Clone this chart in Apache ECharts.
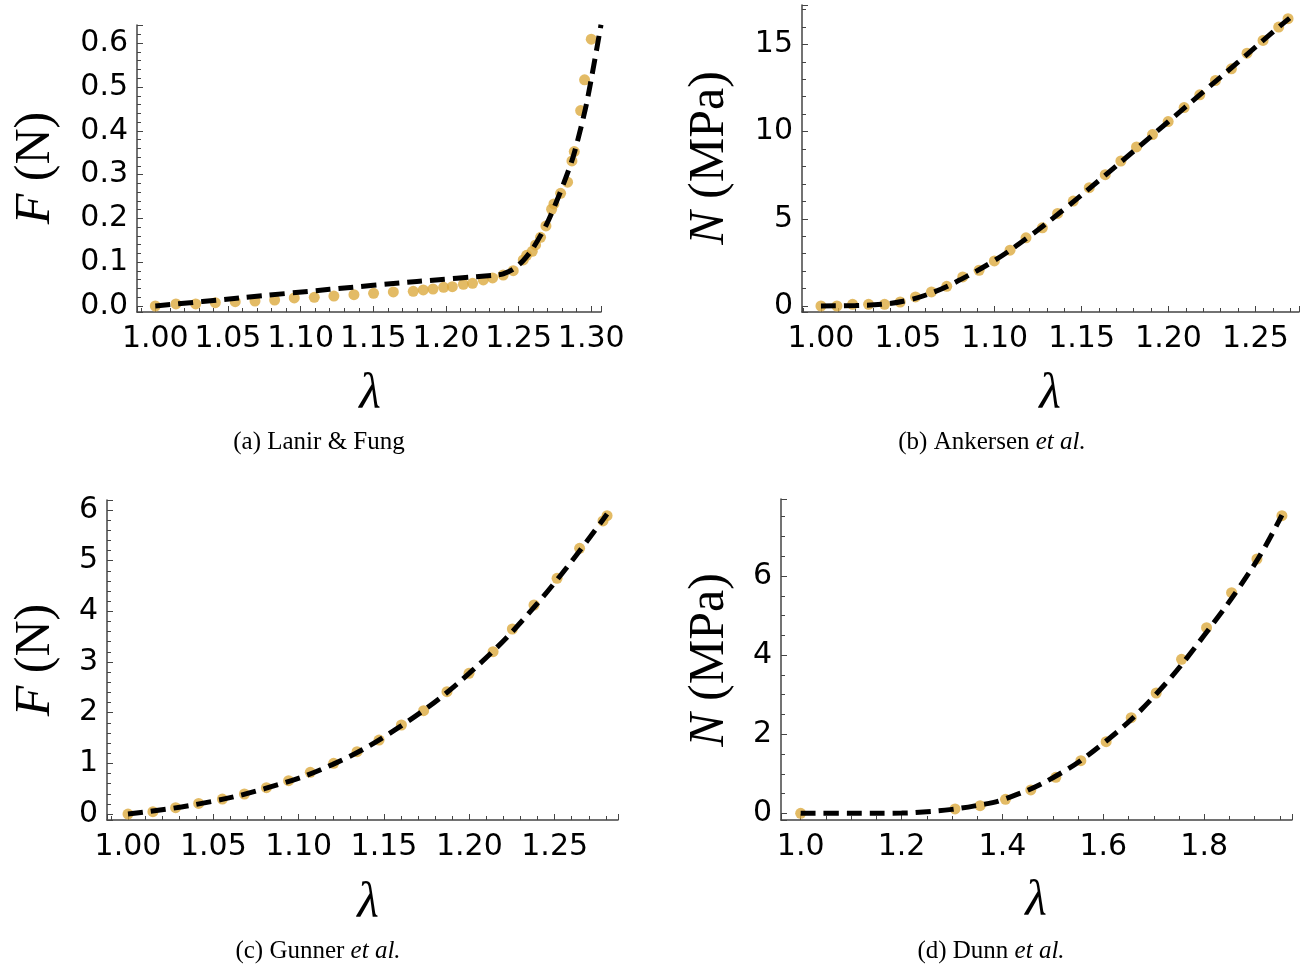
<!DOCTYPE html>
<html>
<head>
<meta charset="utf-8">
<script src="https://cdn.jsdelivr.net/npm/echarts@6/dist/echarts.min.js"></script>
<style>
  html, body { margin: 0; padding: 0; background: #fff; }
  #chart { width: 1314px; height: 968px; }
</style>
</head>
<body>
<div id="chart"></div>
<script>
// (a) Lanir & Fung — measured stretch λ and force F (N)
const lanirLambda = [1.000, 1.0142, 1.0278, 1.0413, 1.055, 1.0686, 1.0821, 1.0956, 1.1094, 1.1229,
  1.1367, 1.1502, 1.1638, 1.1775, 1.1844, 1.1911, 1.1984, 1.2044, 1.212, 1.2183,
  1.2257, 1.2321, 1.2394, 1.2463, 1.2532, 1.2555, 1.2594, 1.2617, 1.2651, 1.2688,
  1.2727, 1.2743, 1.2789, 1.2837, 1.2867, 1.2883, 1.2927, 1.2954, 1.300];
const lanirForce = [0.000, 0.0046, 0.0046, 0.0076, 0.0099, 0.0114, 0.0137, 0.0183, 0.0198, 0.0228,
  0.0259, 0.0289, 0.032, 0.0335, 0.0366, 0.0388, 0.0426, 0.0442, 0.0495, 0.0518,
  0.0594, 0.064, 0.0708, 0.0807, 0.1051, 0.1158, 0.1249, 0.1394, 0.1569, 0.1828,
  0.2209, 0.2331, 0.2574, 0.2826, 0.3313, 0.3526, 0.4463, 0.5164, 0.6093];
// model fit
const lanirFitLambda = [1.000, 1.06, 1.12, 1.18, 1.2349, 1.2394, 1.2463, 1.2532, 1.2601, 1.2693, 1.2784, 1.2876, 1.2968, 1.3067];
const lanirFitForce  = [0.000, 0.019, 0.038, 0.056, 0.0708, 0.0735, 0.084, 0.104, 0.133, 0.187, 0.2574, 0.3412, 0.4631, 0.6421];

// (b) Ankersen et al. — nominal stress N (MPa)
const ankersenLambda = [1.0, 1.0092, 1.0182, 1.0274, 1.0366, 1.0456, 1.0544, 1.0636, 1.0724, 1.0816,
  1.091, 1.0998, 1.1088, 1.118, 1.1274, 1.1362, 1.1452, 1.1544, 1.1636, 1.1726,
  1.1816, 1.1908, 1.1998, 1.209, 1.218, 1.227, 1.2362, 1.2452, 1.2544, 1.2634, 1.2688];
const ankersenStress = [0, 0, 0.096, 0.096, 0.096, 0.23, 0.517, 0.805, 1.13, 1.667,
  2.05, 2.586, 3.2, 3.908, 4.483, 5.307, 6.015, 6.782, 7.529, 8.314,
  9.119, 9.828, 10.575, 11.379, 12.107, 12.931, 13.6, 14.5, 15.23, 15.996, 16.475];
const ankersenFitLambda = [1.0, 1.02, 1.035, 1.05, 1.065, 1.08, 1.10, 1.12, 1.14, 1.16,
  1.18, 1.20, 1.22, 1.24, 1.26, 1.2697];
const ankersenFitStress = [0, 0.03, 0.10, 0.33, 0.80, 1.50, 2.62, 4.00, 5.55, 7.20,
  8.88, 10.58, 12.28, 13.98, 15.70, 16.51];

// (c) Gunner et al. — force F (N)
const gunnerLambda = [1.0, 1.0146, 1.0279, 1.0414, 1.0553, 1.0682, 1.0811, 1.0941, 1.1068, 1.1205,
  1.1342, 1.1471, 1.1602, 1.1732, 1.1869, 1.1998, 1.2139, 1.2252, 1.2379, 1.2514,
  1.2646, 1.2783, 1.2807];
const gunnerForce = [0, 0.046, 0.125, 0.21, 0.296, 0.395, 0.52, 0.658, 0.822, 1.0,
  1.23, 1.46, 1.757, 2.04, 2.414, 2.776, 3.204, 3.651, 4.125, 4.651,
  5.243, 5.783, 5.888];
const gunnerFitLambda = [1.0, 1.04, 1.08, 1.12, 1.16, 1.20, 1.24, 1.2807];
const gunnerFitForce  = [0, 0.19, 0.50, 0.98, 1.74, 2.78, 4.16, 5.92];

// (d) Dunn et al. — nominal stress N (MPa)
const dunnLambda = [1.0, 1.306, 1.3557, 1.406, 1.4562, 1.5058, 1.5554, 1.6056, 1.6552, 1.7048,
  1.755, 1.8046, 1.8542, 1.9045, 1.954];
const dunnStress = [0, 0.11, 0.194, 0.354, 0.59, 0.91, 1.331, 1.812, 2.418, 3.042,
  3.893, 4.694, 5.578, 6.43, 7.525];
const dunnFitLambda = [1.0, 1.1, 1.2, 1.25, 1.3, 1.35, 1.4, 1.5, 1.6, 1.7, 1.8, 1.9, 1.954];
const dunnFitStress = [0, 0, 0.005, 0.04, 0.10, 0.20, 0.34, 0.90, 1.77, 2.95, 4.50, 6.30, 7.54];

// captions
const captions = ['(a) Lanir & Fung', '(b) Ankersen ', '(c) Gunner ', '(d) Dunn '];

const POINT_COLOR = '#dcaa3e';
const AXIS_COLOR = '#444';
const SERIF = '"Liberation Serif", "DejaVu Serif", serif';
const SANS = '"DejaVu Sans", sans-serif';

const zip = (xs, ys) => xs.map((x, i) => [x, ys[i]]);

function valueAxis(gridIndex, min, max, step, minorSplit, decimals, isX) {
  return {
    type: 'value',
    gridIndex: gridIndex,
    min: min,
    max: max,
    minInterval: step,
    maxInterval: step,
    splitNumber: Math.max(1, Math.round((max - min) / step)),
    axisLine: { show: true, onZero: false, lineStyle: { color: AXIS_COLOR, width: 1.5 } },
    axisTick: { show: true, inside: true, length: 6, lineStyle: { color: AXIS_COLOR, width: 1 } },
    minorTick: { show: true, splitNumber: minorSplit, length: 4, lineStyle: { color: AXIS_COLOR, width: 1 } },
    splitLine: { show: false },
    minorSplitLine: { show: false },
    axisLabel: {
      showMinLabel: false,
      showMaxLabel: false,
      formatter: v => v.toFixed(decimals),
      fontFamily: SANS,
      fontSize: 30,
      color: '#000',
      margin: isX ? 12 : 9
    }
  };
}

const panels = [
  { grid: { left: 137, top: 25, width: 464, height: 287 },
    x: [0.9874, 1.3067, 0.05, 5, 2], y: [-0.0137, 0.6416, 0.1, 5, 1],
    pts: zip(lanirLambda, lanirForce), fit: zip(lanirFitLambda, lanirFitForce), smooth: 0.25 },
  { grid: { left: 802, top: 5, width: 497, height: 307 },
    x: [0.9891, 1.2751, 0.05, 5, 2], y: [-0.344, 17.26, 5, 5, 0],
    pts: zip(ankersenLambda, ankersenStress), fit: zip(ankersenFitLambda, ankersenFitStress), smooth: 0.4 },
  { grid: { left: 107, top: 500, width: 511, height: 320 },
    x: [0.9877, 1.2871, 0.05, 5, 2], y: [-0.118, 6.197, 1, 5, 0],
    pts: zip(gunnerLambda, gunnerForce), fit: zip(gunnerFitLambda, gunnerFitForce), smooth: 0.4 },
  { grid: { left: 781, top: 499, width: 511, height: 321 },
    x: [0.961, 1.974, 0.2, 4, 1], y: [-0.169, 7.947, 2, 4, 0],
    pts: zip(dunnLambda, dunnStress), fit: zip(dunnFitLambda, dunnFitStress), smooth: 0.4 }
];

const grids = [], xAxes = [], yAxes = [], series = [];
panels.forEach((p, i) => {
  grids.push(Object.assign({ containLabel: false, outerBoundsMode: 'none' }, p.grid));
  xAxes.push(valueAxis(i, p.x[0], p.x[1], p.x[2], p.x[3], p.x[4], true));
  yAxes.push(valueAxis(i, p.y[0], p.y[1], p.y[2], p.y[3], p.y[4], false));
  series.push({
    type: 'scatter', xAxisIndex: i, yAxisIndex: i, data: p.pts,
    symbol: 'circle', symbolSize: 11,
    itemStyle: { color: POINT_COLOR }, z: 2, silent: true
  });
  series.push({
    type: 'line', xAxisIndex: i, yAxisIndex: i, data: p.fit,
    showSymbol: false, smooth: p.smooth,
    lineStyle: { color: '#000', width: 5, type: [15, 8], cap: 'butt' },
    z: 3, silent: true
  });
});

function titleText(x, y, text, rotated) {
  return {
    type: 'text', x: x, y: y, rotation: rotated ? Math.PI / 2 : 0, silent: true,
    style: { text: text, rich: axisRich, align: 'center', verticalAlign: 'middle',
             fontFamily: SERIF, fontSize: 50, fill: '#000' }
  };
}
const axisRich = {
  i: { fontFamily: SERIF, fontSize: 50, fontStyle: 'italic', fill: '#000' },
  r: { fontFamily: SERIF, fontSize: 50, fill: '#000' }
};
const capRich = {
  r: { fontFamily: SERIF, fontSize: 25, fill: '#000' },
  i: { fontFamily: SERIF, fontSize: 25, fontStyle: 'italic', fill: '#000' }
};
function caption(x, y, plain, italic) {
  return {
    type: 'text', x: x, y: y, silent: true,
    style: { text: '{r|' + plain + '}' + (italic ? '{i|' + italic + '}' : ''), rich: capRich,
             align: 'center', verticalAlign: 'middle', fontFamily: SERIF, fontSize: 25, fill: '#000' }
  };
}

const graphics = [
  titleText(36, 168, '{i|F}{r| (N)}', true),
  titleText(710, 158, '{i|N}{r| (MPa)}', true),
  titleText(36, 660, '{i|F}{r| (N)}', true),
  titleText(710, 660, '{i|N}{r| (MPa)}', true),
  titleText(370, 395, '{i|λ}', false),
  titleText(1050, 395, '{i|λ}', false),
  titleText(368, 904, '{i|λ}', false),
  titleText(1036, 902, '{i|λ}', false),
  caption(319, 442, captions[0], ''),
  caption(992, 442, captions[1], 'et al.'),
  caption(318, 951, captions[2], 'et al.'),
  caption(991, 951, captions[3], 'et al.')
];

const chart = echarts.init(document.getElementById('chart'), null, { renderer: 'canvas' });
chart.setOption({
  backgroundColor: '#fff',
  animation: false,
  grid: grids,
  xAxis: xAxes,
  yAxis: yAxes,
  series: series,
  graphic: graphics
});
</script>
</body>
</html>
